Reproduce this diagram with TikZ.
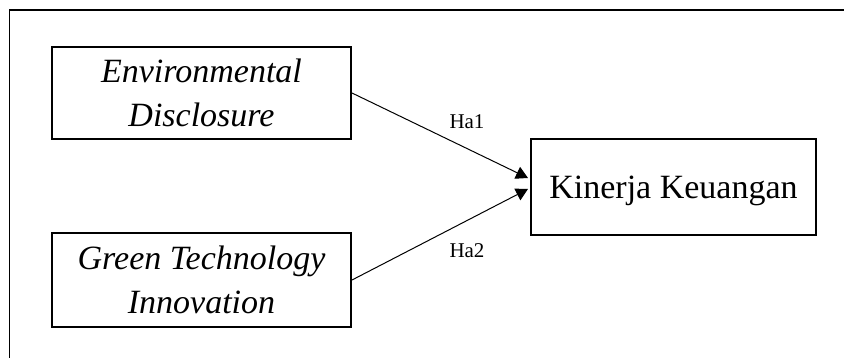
\documentclass[tikz,border=0pt]{standalone}
\usepackage{fontspec}
\setmainfont{Liberation Serif}
\usetikzlibrary{arrows.meta}
\usetikzlibrary{positioning}

\begin{document}
\begin{tikzpicture}[x=1pt,y=-1pt,->,>={Triangle[length=12pt,width=13pt]},
    var node/.style={rectangle,draw,line width=2pt,align=center,inner sep=0pt,font=\fontsize{34}{44}\selectfont},
    hyp node/.style={inner sep=0pt,font=\fontsize{21}{24}\selectfont}]
   \useasboundingbox (0,0) rectangle (844,358);
   % frame (open at right and bottom)
   \draw[-,line width=1.2pt] (9.5,358) -- (9.5,10) -- (844,10);
   \begin{scope}
      \node[var node,minimum width=299pt,minimum height=92pt] (ed) at (201.5,93) {\itshape Environmental\\\itshape Disclosure};
      \node[var node,minimum width=299pt,minimum height=94pt] (gti) at (201.5,280) {\itshape Green Technology\\\itshape Innovation};
      \node[var node,minimum width=285pt,minimum height=96pt,text depth=0pt] (kk) at (673.5,187) {Kinerja Keuangan};
      \coordinate (tip1) at (528,178);
      \coordinate (tip2) at (528,189);
      \node[hyp node] (ha1) at (467,122) {Ha1};
      \node[hyp node] (ha2) at (467,251) {Ha2};
       \path[line width=1pt] (ed.east) edge (tip1);
       \path[line width=1pt] (gti.east) edge (tip2);
    \end{scope}
  \end{tikzpicture}
\end{document}
